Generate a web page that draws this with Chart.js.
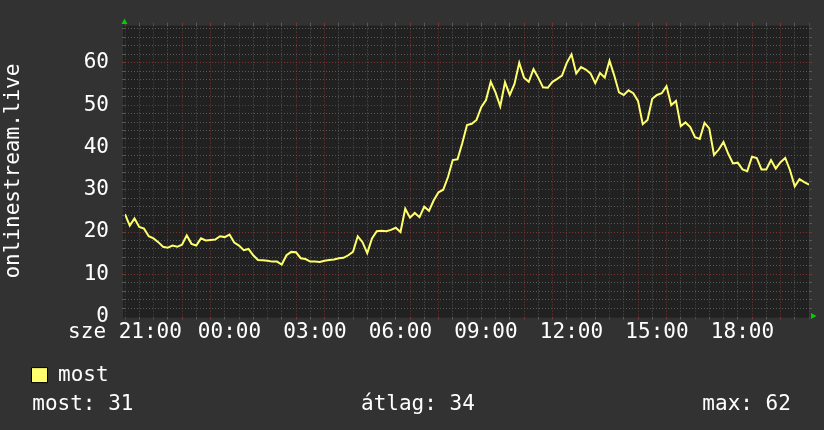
<!DOCTYPE html>
<html>
<head>
<meta charset="utf-8">
<script src="https://cdn.jsdelivr.net/npm/chart.js@4/dist/chart.umd.min.js"></script>
<style>
  html, body { margin: 0; padding: 0; background: #323232; overflow: hidden; }
  canvas { display: block; }
</style>
</head>
<body>
<canvas id="c" width="824" height="430"></canvas>
<script>
// ---- data ----
const seriesName = 'most';
const axisTitle = 'onlinestream.live';
const sampleMinutes = 10;            // spacing of the samples, 21:00 -> 21:00
const viewers = [
  24.2, 21.5, 23.2, 21.2, 20.8, 19, 18.5, 17.6, 16.5, 16.3,
  16.8, 16.5, 17, 19.2, 17.2, 16.8, 18.5, 18, 18.1, 18.2,
  19, 18.8, 19.4, 17.5, 16.8, 15.7, 16, 14.5, 13.4, 13.3,
  13.2, 13, 13, 12.3, 14.5, 15.3, 15.2, 13.8, 13.6, 13,
  13, 12.9, 13.2, 13.4, 13.5, 13.8, 13.9, 14.5, 15.3, 19,
  17.6, 15, 18.5, 20.2, 20.3, 20.2, 20.5, 21, 20, 25.5,
  23.4, 24.5, 23.5, 26, 25, 27.5, 29.4, 30, 33, 37,
  37.2, 41, 45.3, 45.6, 46.5, 49.5, 51.2, 55.5, 53, 49.7,
  55.4, 52.4, 55, 60, 56.5, 55.5, 58.5, 56.5, 54.2, 54.1,
  55.5, 56.2, 57, 60, 62, 57.5, 59, 58.4, 57.5, 55.2,
  57.6, 56.5, 60.5, 57, 53, 52.4, 53.5, 52.8, 51, 45.5,
  46.5, 51.5, 52.4, 52.8, 54.5, 50, 51, 45, 45.9, 44.8,
  42.4, 42, 45.8, 44.5, 38.2, 39.5, 41.3, 38.5, 36.2, 36.4,
  34.8, 34.4, 37.8, 37.5, 34.8, 34.8, 37, 35, 36.5, 37.5,
  34.6, 30.8, 32.5, 31.8, 31.2
];
const xTickLabels = ['sze 21:00', '   00:00', '   03:00', '   06:00', '   09:00', '   12:00', '   15:00', '   18:00'];
const yTickValues = [0, 10, 20, 30, 40, 50, 60];
const summaryLabels = ['most', 'átlag', 'max'];
const summaryValues = [31, 34, 62];

// ---- styles ----
const FONT = 'DejaVu Sans Mono';
const BG = '#323232';
const PLOT_BG = '#212121';
const MINOR = '#585858';
const MAJOR = '#7a3434';
const LINE = '#ffff6e';

const points = viewers.map((v, i) => ({ x: i * sampleMinutes / 60, y: v }));

const summaryText = '  ' + summaryLabels[0] + ': ' + summaryValues[0] +
  ' '.repeat(18) + summaryLabels[1] + ': ' + summaryValues[1] +
  ' '.repeat(18) + summaryLabels[2] + ': ' + summaryValues[2];

function xGridColor(ctx) {
  const v = ctx.tick ? ctx.tick.value : 0;
  return Math.abs(v - Math.round(v)) < 1e-6 ? MAJOR : MINOR;
}
function yGridColor(ctx) {
  const v = ctx.tick ? ctx.tick.value : 0;
  if (Math.abs(v) < 1e-6) return 'rgba(0,0,0,0)';
  return Math.abs(v % 10) < 1e-6 ? MAJOR : MINOR;
}

const bgPlugin = {
  id: 'bg',
  beforeDraw(chart) {
    const { ctx, chartArea: a } = chart;
    ctx.save();
    ctx.fillStyle = BG;
    ctx.fillRect(0, 0, chart.width, chart.height);
    ctx.fillStyle = PLOT_BG;
    ctx.fillRect(a.left - 2, a.top, a.right - a.left + 2, a.bottom - a.top + 1);
    ctx.restore();
  },
  afterDraw(chart) {
    const { ctx, chartArea: a } = chart;
    ctx.save();
    ctx.fillStyle = '#00d000';
    ctx.beginPath();
    ctx.moveTo(a.left - 0.5, a.top - 7);
    ctx.lineTo(a.left - 3.5, a.top - 1.5);
    ctx.lineTo(a.left + 2.5, a.top - 1.5);
    ctx.closePath();
    ctx.fill();
    ctx.beginPath();
    ctx.moveTo(a.right + 7.5, a.bottom - 0.5);
    ctx.lineTo(a.right + 2, a.bottom - 3.5);
    ctx.lineTo(a.right + 2, a.bottom + 2.5);
    ctx.closePath();
    ctx.fill();
    ctx.restore();
  }
};

new Chart(document.getElementById('c'), {
  type: 'line',
  data: {
    datasets: [{
      label: seriesName,
      data: points,
      borderColor: LINE,
      backgroundColor: LINE,
      borderWidth: 2,
      pointRadius: 0,
      tension: 0,
      fill: false
    }]
  },
  options: {
    responsive: false,
    devicePixelRatio: 1,
    animation: false,
    events: [],
    layout: { padding: { left: 7, right: 12, top: 12, bottom: 16.4 } },
    scales: {
      x: {
        type: 'linear', position: 'bottom', min: 0, max: 24,
        afterFit(s) { s.height = 23.5; },
        grid: { color: xGridColor, lineWidth: 1, drawTicks: true, tickLength: 3, tickColor: xGridColor },
        border: { display: false, dash: [1, 2] },
        ticks: {
          stepSize: 0.5, maxTicksLimit: 100, autoSkip: false, maxRotation: 0, minRotation: 0,
          padding: 0, color: '#ffffff', font: { family: FONT, size: 21 },
          callback(v) {
            if (Math.abs(v / 3 - Math.round(v / 3)) < 1e-6) {
              return xTickLabels[Math.round(v / 3)] || '';
            }
            return '';
          }
        }
      },
      x2: {
        type: 'linear', position: 'top', min: 0, max: 24,
        afterFit(s) { s.height = 3; },
        grid: { color: xGridColor, drawOnChartArea: false, drawTicks: true, tickLength: 3, tickColor: xGridColor },
        border: { display: false },
        ticks: { display: false, autoSkip: false, stepSize: 0.5, maxTicksLimit: 100 }
      },
      y: {
        type: 'linear', position: 'left', min: 0, max: 68.8,
        afterFit(s) { s.width = 118; },
        grid: { color: yGridColor, lineWidth: 1, drawTicks: true, tickLength: 3, tickColor: yGridColor },
        border: { display: false, dash: [1, 2] },
        title: {
          display: true, text: axisTitle, color: '#ffffff',
          font: { family: FONT, size: 21 }, padding: { top: -6, bottom: 0 }
        },
        ticks: {
          stepSize: 2, maxTicksLimit: 100, autoSkip: false, includeBounds: false, padding: 13,
          color: '#ffffff', font: { family: FONT, size: 21 },
          callback(v) { return yTickValues.includes(v) ? String(v) : ''; }
        }
      },
      y2: {
        type: 'linear', position: 'right', min: 0, max: 68.8,
        afterFit(s) { s.width = 3; },
        grid: { color: yGridColor, drawOnChartArea: false, drawTicks: true, tickLength: 3, tickColor: yGridColor },
        border: { display: false },
        ticks: { display: false, autoSkip: false, stepSize: 2, maxTicksLimit: 100, includeBounds: false }
      }
    },
    plugins: {
      legend: {
        display: true, position: 'bottom', align: 'start',
        labels: {
          color: '#ffffff', font: { family: FONT, size: 21 },
          boxWidth: 16, boxHeight: 15, padding: 24.5,
          generateLabels(chart) {
            return [{ text: seriesName, fillStyle: LINE, strokeStyle: '#000000', lineWidth: 1, hidden: false, datasetIndex: 0, fontColor: '#ffffff' }];
          }
        }
      },
      subtitle: {
        display: true, position: 'bottom', align: 'start', text: summaryText,
        color: '#ffffff', font: { family: FONT, size: 21, lineHeight: 18 / 21 },
        padding: { top: 0, bottom: 0 }
      },
      title: { display: false },
      tooltip: { enabled: false }
    }
  },
  plugins: [bgPlugin]
});
</script>
</body>
</html>
